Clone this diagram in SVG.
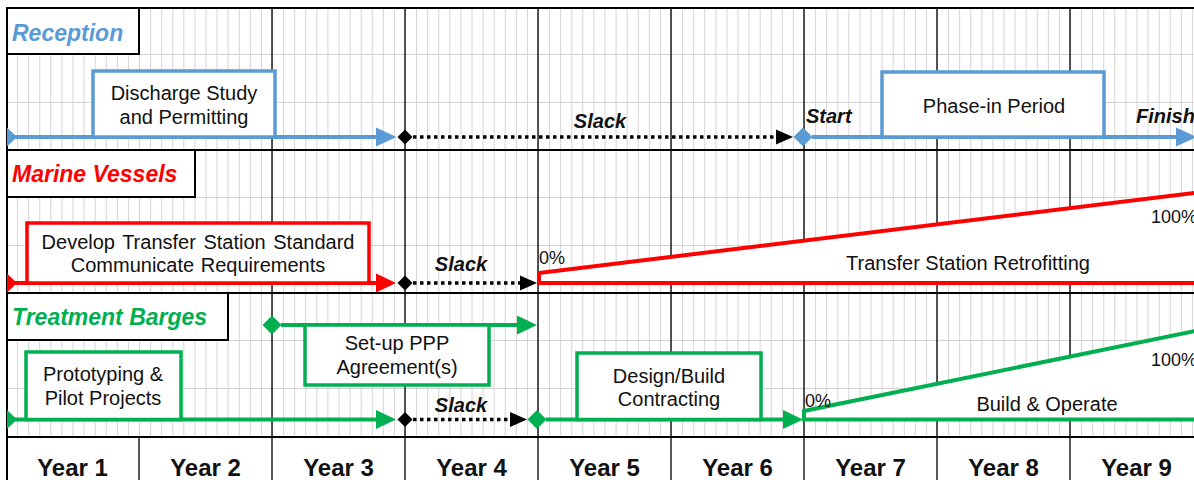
<svg xmlns="http://www.w3.org/2000/svg" width="1194" height="480" viewBox="0 0 1194 480">
<style>
text{font-family:"Liberation Sans",Arial,sans-serif;fill:#111}
.lane{font-style:italic;font-weight:bold;font-size:23px}
.box{font-size:20px;text-anchor:middle}
.tag{font-style:italic;font-weight:bold;font-size:20px}
.pct{font-size:18px}
.year{font-weight:bold;font-size:24px;text-anchor:middle}
.lbl{fill:#fff;stroke:#000;stroke-width:2}
.maj{stroke:#000;stroke-width:1.3;fill:none}
.sep{stroke:#000;stroke-width:2;fill:none}
.minor{stroke:#d4d4d4;stroke-width:1;fill:none}
.bl{stroke:#5B9BD5}
.rd{stroke:#FF0000}
.gr{stroke:#00B050}
.tl{stroke-width:4;fill:none}
.bx{fill:#fff;stroke-width:3.5}
.dot{stroke:#000;stroke-width:3.5;stroke-dasharray:3.5 3.5;fill:none}
</style>
<defs>
<pattern id="mgrid" patternUnits="userSpaceOnUse" x="6" y="0" width="133" height="10">
<path d="M0.5,0v10M11.58,0v10M22.67,0v10M33.75,0v10M44.83,0v10M55.92,0v10M67,0v10M78.08,0v10M89.17,0v10M100.25,0v10M111.33,0v10M122.42,0v10" stroke="#d4d4d4" stroke-width="1"/>
</pattern>
<marker id="aB" markerUnits="userSpaceOnUse" markerWidth="21" markerHeight="20" refX="0" refY="10" orient="auto"><path d="M0,0.5L20.5,10L0,19.5z" fill="#5B9BD5"/></marker>
<marker id="aR" markerUnits="userSpaceOnUse" markerWidth="21" markerHeight="20" refX="0" refY="10" orient="auto"><path d="M0,0.5L20,10L0,19.5z" fill="#FF0000"/></marker>
<marker id="aG" markerUnits="userSpaceOnUse" markerWidth="21" markerHeight="20" refX="0" refY="10" orient="auto"><path d="M0,0.5L20,10L0,19.5z" fill="#00B050"/></marker>
<marker id="aK" markerUnits="userSpaceOnUse" markerWidth="18" markerHeight="16" refX="0" refY="8" orient="auto"><path d="M0,0.5L17,8L0,15.5z" fill="#000"/></marker>
<path id="dk" d="M0,-7.5L7.5,0L0,7.5L-7.5,0z"/>
<path id="dc" d="M0,-9.5L9.5,0L0,9.5L-9.5,0z"/>
</defs>
<rect width="1194" height="480" fill="#fff"/>
<g id="grid">
<rect x="7" y="8" width="1187" height="429" fill="url(#mgrid)"/>
<path class="minor" d="M7,54.5H1194M7,102.5H1194M7,197.5H1194M7,245.5H1194M7,340.5H1194M7,388.5H1194"/>
<path class="maj" d="M272,8V480M405,8V480M538,8V480M671,8V480M804,8V480M937,8V480M1070,8V480M139,437V480"/>
<path class="sep" d="M7,8H1194M7,150H1194M7,293H1194M7,437H1194M7,7V480"/>
</g>
<g id="years">
<text class="year" x="72.5" y="476">Year 1</text>
<text class="year" x="205.5" y="476">Year 2</text>
<text class="year" x="338.5" y="476">Year 3</text>
<text class="year" x="471.5" y="476">Year 4</text>
<text class="year" x="604.5" y="476">Year 5</text>
<text class="year" x="737.5" y="476">Year 6</text>
<text class="year" x="870.5" y="476">Year 7</text>
<text class="year" x="1003.5" y="476">Year 8</text>
<text class="year" x="1136.5" y="476">Year 9</text>
</g>
<g id="lane-reception">
<rect class="lbl" x="7" y="8" width="132" height="46"/>
<text class="lane" x="12" y="41" style="fill:#5B9BD5">Reception</text>
</g>
<g id="lane-marine">
<rect class="lbl" x="7" y="150" width="188" height="47"/>
<text class="lane" x="12" y="182" style="fill:#FF0000">Marine Vessels</text>
</g>
<g id="lane-treatment">
<rect class="lbl" x="7" y="293" width="221" height="47"/>
<text class="lane" x="12" y="325" style="fill:#00B050">Treatment Barges</text>
</g>
<g id="connectors">
<path class="tl bl" d="M7,137H376" marker-end="url(#aB)"/>
<path class="dot" d="M413,137H776" marker-end="url(#aK)"/>
<path class="tl bl" d="M812,137H1176" marker-end="url(#aB)"/>
<path class="tl rd" d="M7,283H376" marker-end="url(#aR)"/>
<path class="dot" d="M413,283H520" marker-end="url(#aK)"/>
<path class="tl gr" d="M281,325H517" marker-end="url(#aG)"/>
<path class="tl gr" d="M7,419.5H376" marker-end="url(#aG)"/>
<path class="dot" d="M413,419.5H510" marker-end="url(#aK)"/>
<path class="tl gr" d="M546,419.5H783" marker-end="url(#aG)"/>
</g>
<g id="milestones">
<polygon points="7,127.5 17,137 7,146.5" fill="#5B9BD5"/>
<use href="#dk" x="405" y="137" fill="#000"/>
<use href="#dc" x="803" y="137" fill="#5B9BD5"/>
<polygon points="7,273.5 17,283 7,292.5" fill="#FF0000"/>
<use href="#dk" x="405" y="283" fill="#000"/>
<use href="#dc" x="272" y="325" fill="#00B050"/>
<polygon points="7,410 17,419.5 7,429" fill="#00B050"/>
<use href="#dk" x="405" y="419.5" fill="#000"/>
<use href="#dc" x="537" y="419.5" fill="#00B050"/>
</g>
<g id="node-discharge">
<rect class="bx bl" x="93" y="71" width="182" height="66"/>
<text class="box" x="184" y="100">Discharge Study</text>
<text class="box" x="184" y="123.5">and Permitting</text>
</g>
<g id="node-slack1"><text class="tag" x="600" y="128" text-anchor="middle">Slack</text></g>
<g id="node-start"><text class="tag" x="806" y="123">Start</text></g>
<g id="node-phasein">
<rect class="bx bl" x="882" y="72" width="222" height="65"/>
<text class="box" x="994" y="112.5">Phase-in Period</text>
</g>
<g id="node-finish"><text class="tag" x="1136" y="123">Finish</text></g>
<g id="node-develop">
<rect class="bx rd" x="27" y="223" width="342" height="60"/>
<text class="box" x="198" y="248.5" word-spacing="2">Develop Transfer Station Standard</text>
<text class="box" x="198" y="272" word-spacing="1">Communicate Requirements</text>
</g>
<g id="node-slack2"><text class="tag" x="461" y="271" text-anchor="middle">Slack</text></g>
<g id="node-retrofit">
<path d="M1200,192.3L539,273V283H1200" fill="#fff" stroke="#FF0000" stroke-width="4"/>
<text class="pct" x="539" y="264">0%</text>
<text class="pct" x="1151" y="223">100%</text>
<text class="box" x="968" y="270">Transfer Station Retrofitting</text>
</g>
<g id="node-ppp">
<rect class="bx gr" x="305" y="325" width="184" height="60"/>
<text class="box" x="397" y="350">Set-up PPP</text>
<text class="box" x="397" y="374">Agreement(s)</text>
</g>
<g id="node-proto">
<rect class="bx gr" x="26" y="352" width="155" height="67.5"/>
<text class="box" x="103" y="381">Prototyping &amp;</text>
<text class="box" x="103" y="404.5">Pilot Projects</text>
</g>
<g id="node-slack3"><text class="tag" x="461" y="412" text-anchor="middle">Slack</text></g>
<g id="node-design">
<rect class="bx gr" x="577" y="353" width="184" height="66.5"/>
<text class="box" x="669" y="382.5">Design/Build</text>
<text class="box" x="669" y="405.5">Contracting</text>
</g>
<g id="node-build">
<path d="M1200,330L804,411V419.5H1200" fill="#fff" stroke="#00B050" stroke-width="4"/>
<text class="pct" x="805" y="407">0%</text>
<text class="pct" x="1151" y="366">100%</text>
<text class="box" x="1047" y="411">Build &amp; Operate</text>
</g>
</svg>
